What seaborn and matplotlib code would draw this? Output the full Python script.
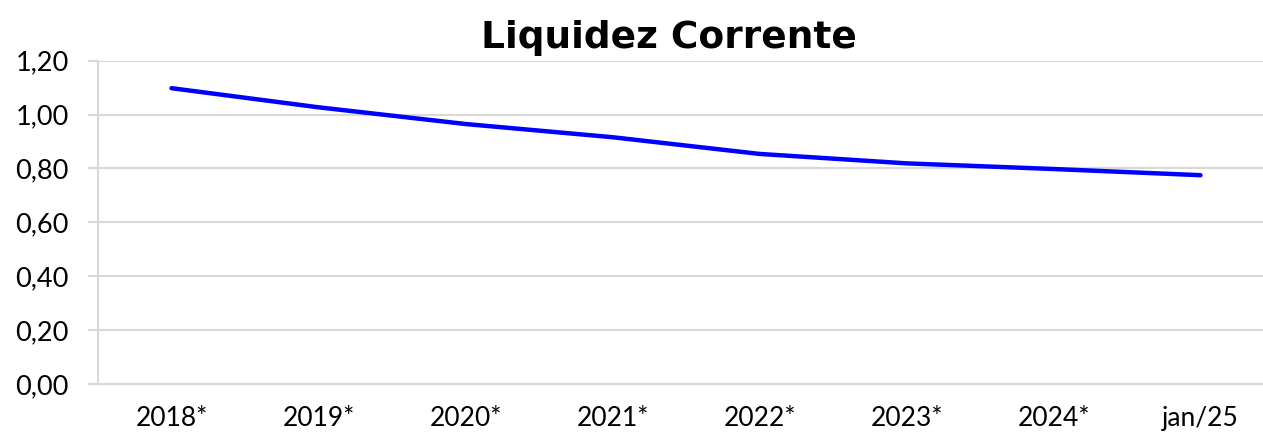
import pandas as pd
import matplotlib
matplotlib.use('Agg')
import matplotlib.pyplot as plt
import seaborn as sns
from matplotlib.ticker import FixedLocator, FuncFormatter

# data
periodos = ["2018*", "2019*", "2020*", "2021*", "2022*", "2023*", "2024*", "jan/25"]
liquidez = [1.098, 1.027, 0.965, 0.916, 0.854, 0.819, 0.798, 0.775]
y_ticks = [0.0, 0.2, 0.4, 0.6, 0.8, 1.0, 1.2]

df = pd.DataFrame({"periodo": periodos, "liquidez": liquidez})

sns.set_style("white")
plt.rcParams['font.family'] = ['Lato', 'DejaVu Sans']

W, H = 1263, 432
fig = plt.figure(figsize=(W / 100, H / 100), dpi=100)
# plot area runs a bit past the right edge of the picture, as in the reference
ax = fig.add_axes([98 / W, 1 - 384 / H, (1274 - 98) / W, (384 - 60.7) / H])

sns.lineplot(data=df, x="periodo", y="liquidez", sort=False, color="#0000ff",
             linewidth=3.2, solid_capstyle="round", ax=ax)

ax.set_xlim(-0.5, len(periodos) - 0.5)
ax.set_ylim(0, 1.2)
ax.set_yticks(y_ticks)
ax.yaxis.set_major_formatter(FuncFormatter(lambda v, p: f"{v:.2f}".replace(".", ",")))
ax.grid(axis="y", color="#d9d9d9", linewidth=1.5)
ax.set_axisbelow(True)

ax.set_xlabel("")
ax.set_ylabel("")

# x ticks: labels at the centre, marks between categories
ax.xaxis.set_minor_locator(FixedLocator([i - 0.5 for i in range(len(periodos) + 1)]))
ax.tick_params(axis="x", which="major", length=0, pad=16, labelsize=19, labelcolor="#000000")
ax.tick_params(axis="x", which="minor", length=7, width=1.5, color="#d9d9d9", direction="out")
ax.tick_params(axis="y", length=7, width=1.5, color="#d9d9d9", pad=14, labelsize=19.5,
               labelcolor="#000000", left=True)

for s in ["top", "right"]:
    ax.spines[s].set_visible(False)
for s in ["left", "bottom"]:
    ax.spines[s].set_color("#d9d9d9")
    ax.spines[s].set_linewidth(1.5)

fig.text(669 / W, 1 - 48 / H, "Liquidez Corrente", ha="center", va="baseline",
         fontsize=27, fontweight="heavy", color="#000000", family=["DejaVu Sans"])

fig.savefig("out.png", dpi=100)
